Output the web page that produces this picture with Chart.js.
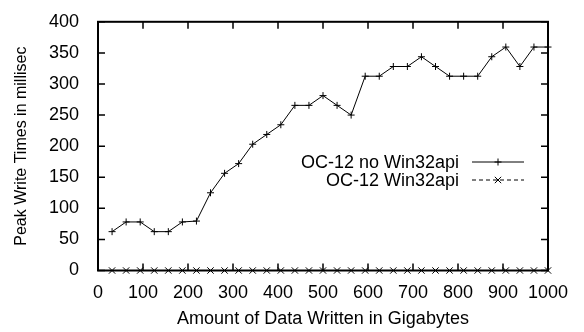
<!DOCTYPE html>
<html>
<head>
<meta charset="utf-8">
<script src="https://cdn.jsdelivr.net/npm/chart.js@4/dist/chart.umd.min.js"></script>
<style>
  html, body { margin: 0; padding: 0; background: #fff; }
  #wrap { width: 584px; height: 332px; position: relative; }
</style>
</head>
<body>
<div id="wrap"><canvas id="chart" width="584" height="332"></canvas></div>
<script>
// Data (x in GB, y in ms)
const dataWritten = [
  31.25, 62.5, 93.75, 125, 156.25, 187.5, 218.75, 250,
  281.25, 312.5, 343.75, 375, 406.25, 437.5, 468.75, 500,
  531.25, 562.5, 593.75, 625, 656.25, 687.5, 718.75, 750,
  781.25, 812.5, 843.75, 875, 906.25, 937.5, 968.75, 1000
];
const noWin32api = [
  62.5, 78.1, 78.1, 62.5, 62.5, 78.1, 79.5, 125,
  156.3, 171.9, 203.1, 218.8, 234.4, 265.6, 265.6, 281.3,
  265.6, 250, 312.5, 312.5, 328.1, 328.1, 343.8, 328.1,
  312.5, 312.5, 312.5, 343.8, 359.4, 328.1, 359.4, 359.4
];
const win32api = [
  0, 0, 0, 0, 0, 0, 0, 0, 0, 0, 0, 0, 0, 0, 0, 0,
  0, 0, 0, 0, 0, 0, 0, 0, 0, 0, 0, 0, 0, 0, 0, 0
];
const seriesLabels = ['OC-12 no Win32api', 'OC-12 Win32api'];
const xTitle = 'Amount of Data Written in Gigabytes';
const yTitle = 'Peak Write Times in millisec';

const FONT = 'Liberation Sans, Arial, Helvetica, sans-serif';

const toPoints = (ys) => ys.map((y, i) => ({ x: dataWritten[i], y: y }));

// gnuplot style frame with inward ticks on all four sides
const framePlugin = {
  id: 'frame',
  afterDraw(chart) {
    const { ctx, chartArea: a, scales } = chart;
    const len = 7;
    ctx.save();
    ctx.strokeStyle = '#000';
    ctx.lineWidth = 1.5;
    ctx.beginPath();
    scales.x.ticks.forEach(t => {
      const px = scales.x.getPixelForValue(t.value);
      ctx.moveTo(px, a.bottom); ctx.lineTo(px, a.bottom - len);
      ctx.moveTo(px, a.top); ctx.lineTo(px, a.top + len);
    });
    scales.y.ticks.forEach(t => {
      const py = scales.y.getPixelForValue(t.value);
      ctx.moveTo(a.left, py); ctx.lineTo(a.left + len, py);
      ctx.moveTo(a.right, py); ctx.lineTo(a.right - len, py);
    });
    ctx.stroke();
    ctx.lineWidth = 2;
    ctx.strokeRect(a.left, a.top, a.right - a.left, a.bottom - a.top);
    ctx.restore();
  }
};

// legend inside the plot: text right-aligned, sample line to the right
const keyPlugin = {
  id: 'key',
  afterDraw(chart) {
    const { ctx } = chart;
    const textRight = 459, lineStart = 472, lineEnd = 524;
    const rows = [162, 180];
    ctx.save();
    chart.data.datasets.forEach((ds, i) => {
      const y = rows[i];
      ctx.fillStyle = '#000';
      ctx.font = '18px ' + FONT;
      ctx.textAlign = 'right';
      ctx.textBaseline = 'middle';
      ctx.fillText(ds.label, textRight, y + 1);
      ctx.strokeStyle = ds.borderColor;
      ctx.lineWidth = ds.borderWidth;
      ctx.setLineDash(ds.borderDash || []);
      ctx.beginPath();
      ctx.moveTo(lineStart, y); ctx.lineTo(lineEnd, y);
      ctx.stroke();
      ctx.setLineDash([]);
      Chart.helpers.drawPoint(ctx, {
        pointStyle: ds.pointStyle, radius: ds.pointRadius, rotation: 0, borderWidth: 1
      }, (lineStart + lineEnd) / 2, y);
    });
    ctx.restore();
  }
};

new Chart(document.getElementById('chart'), {
  type: 'line',
  data: {
    datasets: [
      {
        label: seriesLabels[0],
        data: toPoints(noWin32api),
        borderColor: '#000',
        backgroundColor: '#000',
        borderWidth: 1,
        pointStyle: 'cross',
        pointRadius: 3.5,
        pointBorderWidth: 1,
        tension: 0,
        clip: false
      },
      {
        label: seriesLabels[1],
        data: toPoints(win32api),
        borderColor: '#000',
        backgroundColor: '#000',
        borderWidth: 1,
        borderDash: [4, 3],
        pointStyle: 'crossRot',
        pointRadius: 4.5,
        pointBorderWidth: 1,
        tension: 0,
        clip: false
      }
    ]
  },
  options: {
    responsive: false,
    animation: false,
    devicePixelRatio: 1,
    layout: { padding: { top: 13, right: 36, left: 0, bottom: 0 } },
    plugins: {
      legend: { display: false },
      tooltip: { enabled: false }
    },
    scales: {
      x: {
        type: 'linear',
        min: 0, max: 1000,
        grid: { display: false },
        border: { display: false },
        ticks: {
          stepSize: 100, autoSkip: false, color: '#000', padding: 4, maxRotation: 0,
          font: { family: FONT, size: 18 },
          callback: v => String(v)
        },
        title: { display: true, text: xTitle, color: '#000', padding: { top: 0, bottom: 2 }, font: { family: FONT, size: 18 } },
        afterFit: s => { s.height = 61.5; }
      },
      y: {
        min: 0, max: 400,
        grid: { display: false },
        border: { display: false },
        ticks: { stepSize: 50, autoSkip: false, color: '#000', padding: 11, font: { family: FONT, size: 18 } },
        title: { display: true, text: yTitle, color: '#000', padding: { top: 12, bottom: 0 }, font: { family: FONT, size: 16 } },
        afterFit: s => { s.width = 98; }
      }
    }
  },
  plugins: [framePlugin, keyPlugin]
});
</script>
</body>
</html>
